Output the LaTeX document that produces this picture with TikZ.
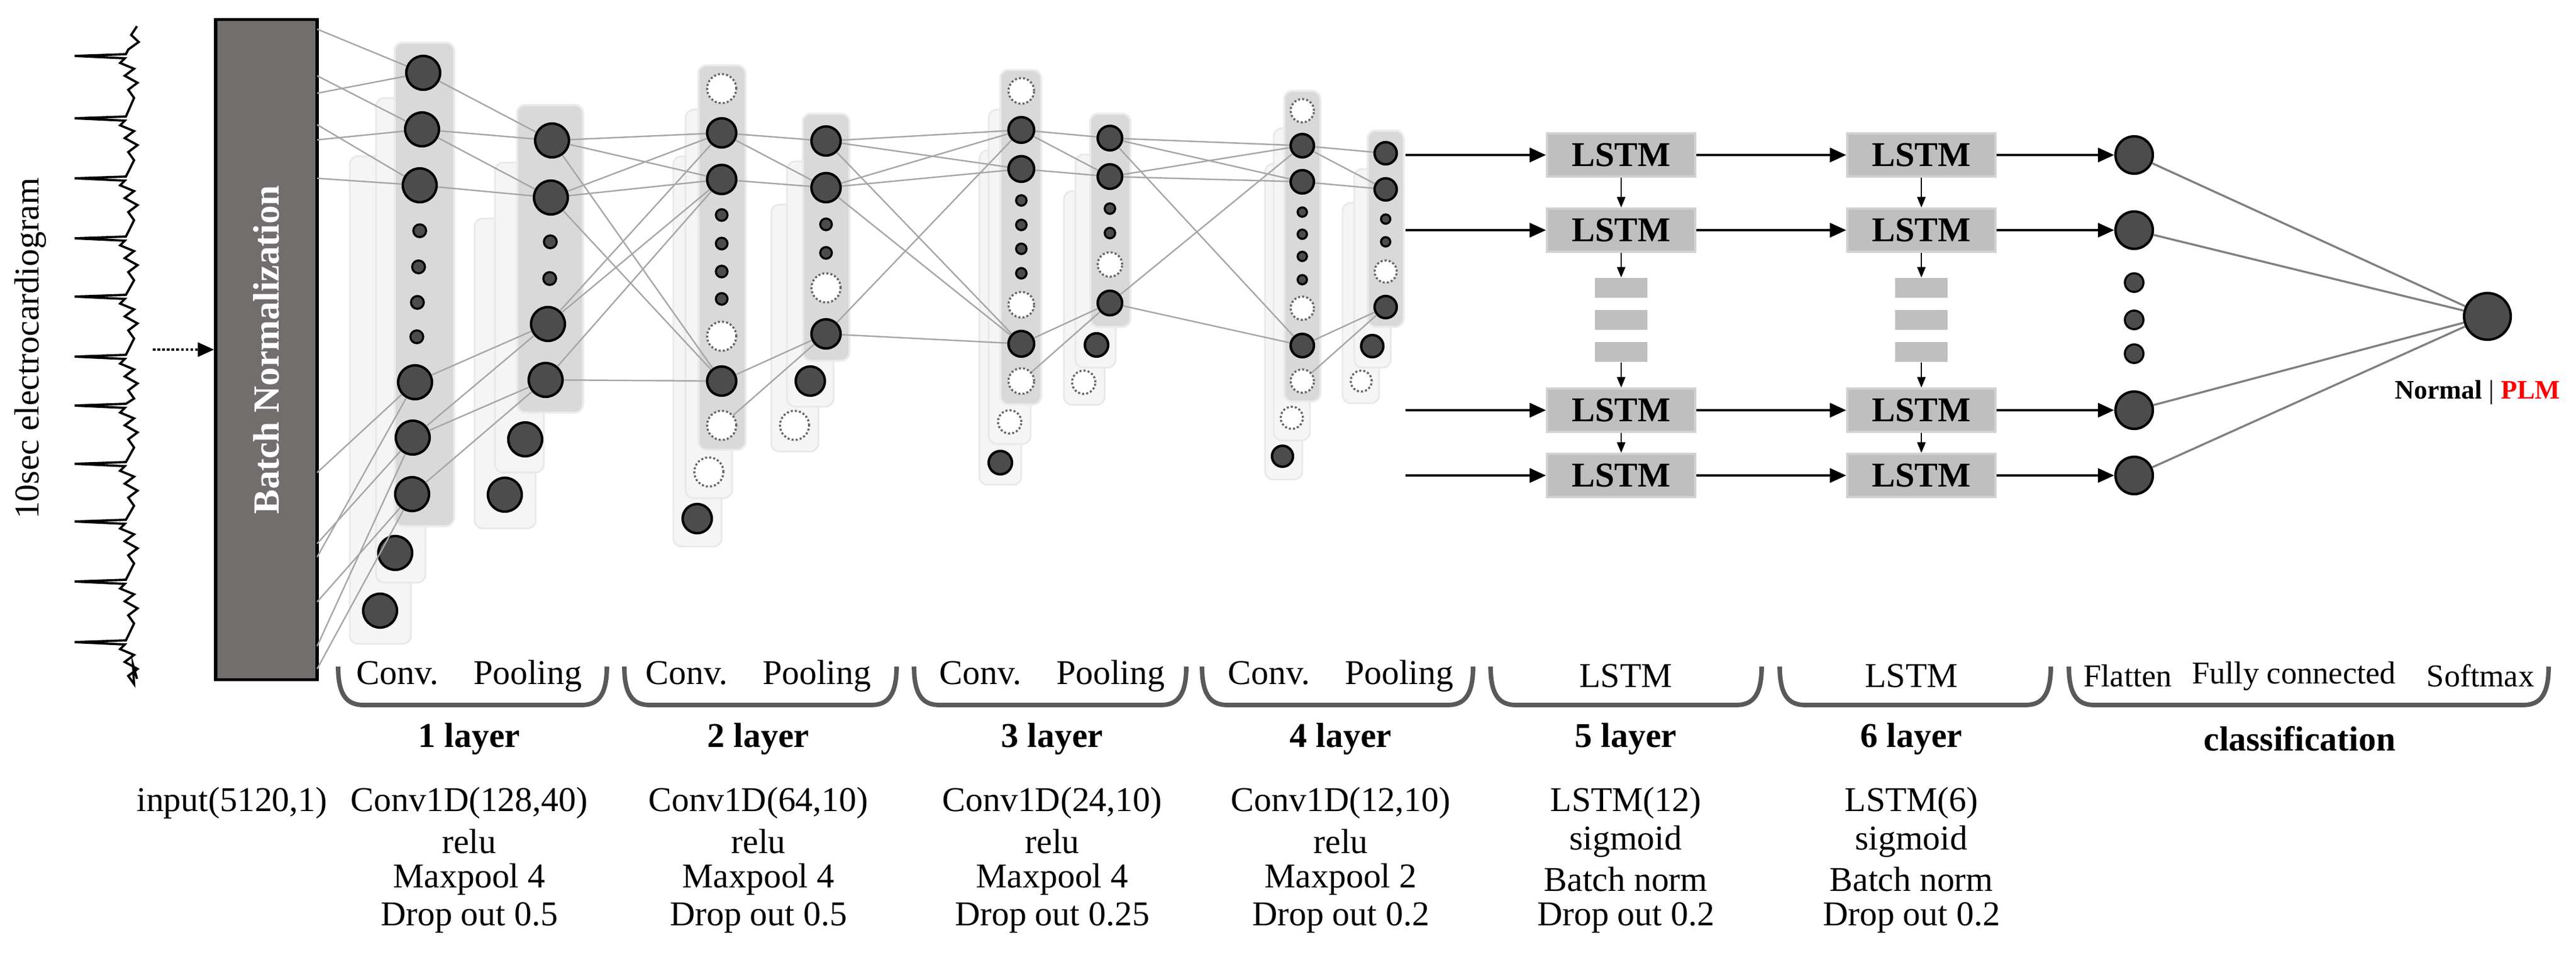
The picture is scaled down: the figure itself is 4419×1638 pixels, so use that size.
\documentclass[tikz,border=0pt]{standalone}
\usepackage{fontspec}
\setmainfont{Liberation Serif}
\usetikzlibrary{arrows.meta}
\definecolor{bncol}{HTML}{736E6E}
\begin{document}
\begin{tikzpicture}[x=0.01cm,y=-0.01cm,
  txt/.style={font=\fontsize{17}{20}\selectfont, inner sep=0pt},
  stxt/.style={font=\fontsize{15.5}{18}\selectfont, inner sep=0pt},
  btxt/.style={font=\fontsize{17}{20}\selectfont\bfseries, inner sep=0pt},
  dk/.style={circle,fill=black!70,draw=black,line width=1.2pt,minimum size=#1,inner sep=0pt},
  dk/.default=0.58cm,
  wh/.style={circle,fill=white,draw=black!60,densely dotted,line width=1pt,minimum size=#1,inner sep=0pt},
  wh/.default=0.5cm,
  sm/.style={circle,fill=black!70,draw=black,line width=1pt,minimum size=#1,inner sep=0pt},
  sm/.default=0.22cm,
  panel/.style={fill=black!15,draw=black!8,line width=1pt,rounded corners=4pt},
  shad/.style={fill=black!4,draw=black!9,line width=0.8pt,rounded corners=4pt},
  cn/.style={draw=black!35,line width=0.7pt},
  lstm/.style={fill=black!25,draw=black!18,line width=1pt,minimum width=2.54cm,minimum height=0.74cm,inner sep=0pt,font=\fontsize{17}{20}\selectfont\bfseries},
  dot/.style={fill=black!25,minimum width=0.9cm,minimum height=0.34cm,inner sep=0pt},
  ar/.style={draw=black,line width=1.4pt,-{Triangle[length=0.28cm,width=0.24cm]}},
  var/.style={draw=black,line width=0.8pt,-{Triangle[length=0.18cm,width=0.14cm]}},
  brace/.style={draw=black!65,line width=2.2pt}
]
\useasboundingbox (0,0) rectangle (4419,1638);

% ECG
\draw[line width=1.1pt] (235,45) -- (225,60) -- (238,72) -- (220,85)
 \foreach \y in {96,203,306,409,509,612,696,796,895,998,1102} {
   -- (216,\y-3) -- (128,\y) -- (214,\y+4) -- (206,\y+12) -- (230,\y+22) -- (214,\y+34) -- (236,\y+46) -- (220,\y+58) -- (230,\y+72)
 } -- (228,1140) -- (235,1165);
\node[txt,rotate=90] (ecglab) at (52,598) {10sec electrocardiogram};

% Batch norm
\node[fill=bncol,draw=black,line width=1.5pt,minimum width=1.74cm,minimum height=11.33cm,inner sep=0pt] (bn) at (457,600) {};
\node[font=\fontsize{18}{21}\selectfont\bfseries,text=white,rotate=90] at (bn.center) {Batch Normalization};
\coordinate (in) at (262,600);
\draw[line width=1.3pt,densely dotted,-{Triangle[length=0.28cm,width=0.24cm]}] (in) -- (bn.west);

% panels
\draw[shad] (600,268) rectangle (705,1105);
\draw[shad] (645,168) rectangle (730,1000);
\draw[panel] (677,73) rectangle (779,903);
\draw[shad] (814,375) rectangle (919,907);
\draw[shad] (849,279) rectangle (933,811);
\draw[panel] (887,180) rectangle (1000,708);
\draw[shad] (1155,268) rectangle (1238,938);
\draw[shad] (1176,188) rectangle (1256,855);
\draw[panel] (1198,112) rectangle (1279,772);
\draw[shad] (1323,351) rectangle (1404,775);
\draw[shad] (1350,277) rectangle (1430,698);
\draw[panel] (1377,195) rectangle (1457,619);
\draw[shad] (1680,258) rectangle (1752,832);
\draw[shad] (1696,188) rectangle (1768,762);
\draw[panel] (1716,120) rectangle (1786,694);
\draw[shad] (1825,328) rectangle (1895,695);
\draw[shad] (1845,265) rectangle (1914,631);
\draw[panel] (1870,195) rectangle (1939,561);
\draw[shad] (2170,281) rectangle (2234,823);
\draw[shad] (2185,220) rectangle (2247,756);
\draw[panel] (2203,156) rectangle (2265,689);
\draw[shad] (2303,348) rectangle (2366,692);
\draw[shad] (2323,290) rectangle (2386,631);
\draw[panel] (2346,224) rectangle (2408,561);

% layer 1 conv
\node[dk] (l1a) at (726,125) {};
\node[dk] (l1b) at (724,222) {};
\node[dk] (l1c) at (720,318) {};
\node[sm] (l1d) at (720,396) {};
\node[sm] (l1e) at (718,458) {};
\node[sm] (l1f) at (716,519) {};
\node[sm] (l1g) at (715,578) {};
\node[dk] (l1h) at (712,656) {};
\node[dk] (l1i) at (708,751) {};
\node[dk] (l1j) at (707,848) {};
\node[dk] (l1k) at (678,949) {};
\node[dk] (l1l) at (652,1048) {};
% pool 1
\node[dk] (p1a) at (947,241) {};
\node[dk] (p1b) at (945,339) {};
\node[sm] (p1c) at (944,415) {};
\node[sm] (p1d) at (943,478) {};
\node[dk] (p1e) at (940,556) {};
\node[dk] (p1f) at (936,652) {};
\node[dk] (p1g) at (901,754) {};
\node[dk] (p1h) at (866,849) {};
% layer 2 conv
\node[wh] (l2a) at (1238,152) {};
\node[dk=0.5cm] (l2b) at (1238,228) {};
\node[dk=0.5cm] (l2c) at (1238,308) {};
\node[sm=0.2cm] (l2d) at (1238,369) {};
\node[sm=0.2cm] (l2e) at (1238,418) {};
\node[sm=0.2cm] (l2f) at (1238,466) {};
\node[sm=0.2cm] (l2g) at (1238,513) {};
\node[wh] (l2h) at (1238,577) {};
\node[dk=0.5cm] (l2i) at (1238,654) {};
\node[wh] (l2j) at (1238,730) {};
\node[wh] (l2k) at (1216,810) {};
\node[dk=0.5cm] (l2l) at (1196,890) {};
% pool 2
\node[dk=0.5cm] (p2a) at (1417,242) {};
\node[dk=0.5cm] (p2b) at (1417,322) {};
\node[sm=0.2cm] (p2c) at (1417,385) {};
\node[sm=0.2cm] (p2d) at (1417,434) {};
\node[wh] (p2e) at (1417,494) {};
\node[dk=0.5cm] (p2f) at (1417,573) {};
\node[dk=0.5cm] (p2g) at (1390,654) {};
\node[wh] (p2h) at (1363,730) {};
% layer 3 conv
\node[wh=0.44cm] (l3a) at (1752,156) {};
\node[dk=0.44cm] (l3b) at (1752,223) {};
\node[dk=0.44cm] (l3c) at (1752,290) {};
\node[sm=0.18cm] (l3d) at (1752,344) {};
\node[sm=0.18cm] (l3e) at (1752,386) {};
\node[sm=0.18cm] (l3f) at (1752,427) {};
\node[sm=0.18cm] (l3g) at (1752,469) {};
\node[wh=0.44cm] (l3h) at (1752,523) {};
\node[dk=0.44cm] (l3i) at (1752,590) {};
\node[wh=0.44cm] (l3j) at (1752,654) {};
\node[wh=0.4cm] (l3k) at (1732,724) {};
\node[dk=0.4cm] (l3l) at (1716,794) {};
% pool 3
\node[dk=0.42cm] (p3a) at (1904,237) {};
\node[dk=0.42cm] (p3b) at (1904,303) {};
\node[sm=0.18cm] (p3c) at (1904,358) {};
\node[sm=0.18cm] (p3d) at (1904,400) {};
\node[wh=0.42cm] (p3e) at (1904,454) {};
\node[dk=0.42cm] (p3f) at (1904,520) {};
\node[dk=0.4cm] (p3g) at (1881,592) {};
\node[wh=0.4cm] (p3h) at (1859,656) {};
% layer 4 conv
\node[wh=0.4cm] (l4a) at (2234,190) {};
\node[dk=0.4cm] (l4b) at (2234,250) {};
\node[dk=0.4cm] (l4c) at (2234,312) {};
\node[sm=0.16cm] (l4d) at (2234,364) {};
\node[sm=0.16cm] (l4e) at (2234,402) {};
\node[sm=0.16cm] (l4f) at (2234,440) {};
\node[sm=0.16cm] (l4g) at (2234,480) {};
\node[wh=0.4cm] (l4h) at (2234,529) {};
\node[dk=0.4cm] (l4i) at (2234,593) {};
\node[wh=0.4cm] (l4j) at (2234,654) {};
\node[wh=0.38cm] (l4k) at (2216,717) {};
\node[dk=0.36cm] (l4l) at (2200,783) {};
% pool 4
\node[dk=0.38cm] (p4a) at (2377,263) {};
\node[dk=0.38cm] (p4b) at (2377,325) {};
\node[sm=0.16cm] (p4c) at (2377,376) {};
\node[sm=0.16cm] (p4d) at (2377,415) {};
\node[wh=0.38cm] (p4e) at (2377,466) {};
\node[dk=0.38cm] (p4f) at (2377,527) {};
\node[dk=0.38cm] (p4g) at (2354,594) {};
\node[wh=0.36cm] (p4h) at (2335,654) {};

% connections
\foreach \y/\t in {50/l1a,130/l1b,160/l1a,214/l1c,240/l1b,306/l1c,811/l1h,933/l1i,956/l1h,1033/l1j,1109/l1i,1148/l1j}{
  \coordinate (bn\y) at (544,\y);
  \draw[cn] (bn\y) -- (\t);
}
\foreach \a/\b in {l1a/p1a,l1b/p1a,l1b/p1b,l1c/p1b,l1h/p1e,l1i/p1e,l1i/p1f,l1j/p1f,
  p1a/l2b,p1a/l2c,p1b/l2b,p1b/l2c,p1e/l2b,p1e/l2c,p1f/l2i,p1a/l2i,p1b/l2i,p1f/l2c,
  l2b/p2a,l2b/p2b,l2c/p2b,l2i/p2f,l2j/p2f,
  p2a/l3b,p2a/l3c,p2b/l3b,p2b/l3c,p2a/l3i,p2b/l3i,p2f/l3i,p2f/l3b,
  l3b/p3a,l3b/p3b,l3c/p3b,l3i/p3f,l3j/p3f,
  p3a/l4b,p3a/l4c,p3b/l4b,p3b/l4c,p3a/l4i,p3f/l4i,p3f/l4b,
  l4b/p4a,l4b/p4b,l4c/p4b,l4i/p4f,l4j/p4f}{
  \draw[cn] (\a) -- (\b);
}

% LSTM
\foreach \y/\n in {266/1,395/2,704/3,816/4}{
  \node[lstm] (La\n) at (2781,\y) {LSTM};
  \node[lstm] (Lb\n) at (3296,\y) {LSTM};
  \node[dk=0.64cm] (o\n) at (3661,\y) {};
  \coordinate (s\n) at (2411,\y);
  \draw[ar] (s\n) -- (La\n);
  \draw[ar] (La\n) -- (Lb\n);
  \draw[ar] (Lb\n) -- (o\n);
}
\foreach \y/\n in {494/1,549/2,604/3}{
  \node[dot] (da\n) at (2781,\y) {};
  \node[dot] (db\n) at (3296,\y) {};
}
\foreach \c in {a,b}{
  \draw[var] (L\c1) -- (L\c2);
  \draw[var] (L\c2) -- (d\c1);
  \draw[var] (d\c3) -- (L\c3);
  \draw[var] (L\c3) -- (L\c4);
}
\node[sm=0.32cm] (od1) at (3661,485) {};
\node[sm=0.32cm] (od2) at (3661,549) {};
\node[sm=0.32cm] (od3) at (3661,607) {};
\node[dk=0.8cm] (out) at (4267,543) {};
\foreach \n in {1,2,3,4} \draw[draw=black!50,line width=1pt] (o\n) -- (out);
\node[font=\fontsize{13}{15}\selectfont\bfseries,inner sep=0pt] (res) at (4250,674) {Normal {\mdseries|} \textcolor{red}{PLM}};

% braces
\foreach \a/\b/\n in {580/1041/1,1071/1538/2,1568/2035/3,2062/2527/4,2557/3022/5,3053/3518/6,3549/4372/7}{
  \draw[brace] (\a,1144) .. controls (\a,1200) and (\a+20,1210) .. (\a+45,1210) -- (\b-45,1210) .. controls (\b-20,1210) and (\b,1200) .. (\b,1144);
}
\foreach \x/\n in {805/1,1301/2,1805/3,2300/4}{
  \node[txt] (cp\n) at (\x,1160) {Conv.\quad Pooling};
  \node[btxt] (ly\n) at (\x,1268) {\n\ layer};
}
\node[txt] (t5) at (2789,1160) {LSTM};
\node[btxt] (ly5) at (2789,1268) {5 layer};
\node[txt] (t6) at (3279,1160) {LSTM};
\node[btxt] (ly6) at (3279,1268) {6 layer};
\node[stxt] (fl) at (3650,1160) {Flatten};
\node[stxt] (fc) at (3935,1160) {Fully connected};
\node[stxt] (sx) at (4255,1160) {Softmax};
\node[btxt] (cls) at (3945,1268) {classification};

\node[txt] (inp) at (398,1378) {input(5120,1)};
\foreach \x/\a/\b/\c/\d in {805/Conv1D(128{,}40)/relu/Maxpool 4/Drop out 0.5,
  1301/Conv1D(64{,}10)/relu/Maxpool 4/Drop out 0.5,
  1805/Conv1D(24{,}10)/relu/Maxpool 4/Drop out 0.25,
  2300/Conv1D(12{,}10)/relu/Maxpool 2/Drop out 0.2,
  2789/LSTM(12)/sigmoid/Batch norm/Drop out 0.2,
  3279/LSTM(6)/sigmoid/Batch norm/Drop out 0.2}{
  \node[txt] at (\x,1378) {\a};
  \node[txt] at (\x,1444) {\b};
  \node[txt] at (\x,1509) {\c};
  \node[txt] at (\x,1575) {\d};
}
\end{tikzpicture}
\end{document}
